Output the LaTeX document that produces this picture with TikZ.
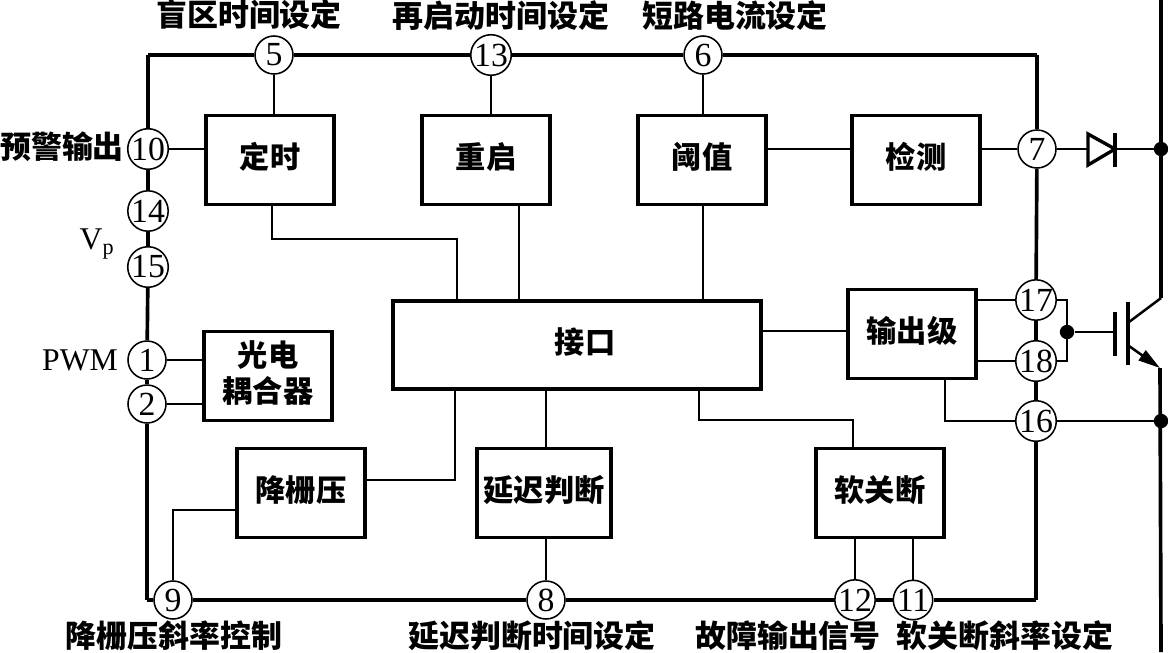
\documentclass[tikz,border=0pt]{standalone}
\usepackage{fontspec}
\setmainfont{Liberation Serif}
\newfontfamily\cjk{Noto Sans CJK SC}
\usetikzlibrary{arrows.meta}
\begin{document}
\begin{tikzpicture}[x=0.025cm,y=-0.025cm]
          \useasboundingbox (0,0) rectangle (1168,652);
          \tikzstyle{pin} = [draw, circle, fill=white, line width=1.1pt, inner sep=0pt, minimum size=0.95cm, font=\fontsize{24}{24}\selectfont];
          \tikzstyle{block} = [draw, line width=2.4pt, inner sep=0pt, minimum width=3.2cm, minimum height=2.22cm, text depth=0.22cm, font=\cjk\bfseries\fontsize{21.5}{25.5}\selectfont, align=center];
          \tikzstyle{lab} = [inner sep=0pt, font=\cjk\bfseries\fontsize{22}{24}\selectfont];
          \tikzstyle{latin} = [inner sep=0pt, font=\fontsize{22.5}{24}\selectfont];
          \tikzstyle{frame} = [line width=2.6pt];
          \tikzstyle{wire} = [line width=1.3pt];
          \tikzstyle{bar} = [line width=2.4pt];
          \tikzstyle{dot} = [fill, circle, inner sep=0pt, minimum size=0.36cm];
          % pins
          \node[pin](5) at (274,55) {5};
          \node[pin](13) at (491,55) {13};
          \node[pin](6) at (703,55) {6};
          \node[pin](10) at (148,149) {10};
          \node[pin](14) at (148,211) {14};
          \node[pin](15) at (148,267) {15};
          \node[pin](1) at (147,360) {1};
          \node[pin](2) at (147,404) {2};
          \node[pin](9) at (173,600) {9};
          \node[pin](8) at (546,600) {8};
          \node[pin](12) at (855,600) {12};
          \node[pin](11) at (913,600) {11};
          \node[pin](16) at (1036,421) {16};
          \node[pin](18) at (1036,361) {18};
          \node[pin](17) at (1036,300) {17};
          \node[pin](7) at (1037,149) {7};
          % blocks
          \node[block](timer) at (270,160) {定时};
          \node[block](restart) at (486,160) {重启};
          \node[block](thresh) at (702,160) {阈值};
          \node[block](detect) at (916,160) {检测};
          \node[block, minimum width=9.2cm, minimum height=2.2cm](iface) at (577,345) {\hspace*{0.4cm}接口};
          \node[block](output) at (912,334) {输出级};
          \node[block](opto) at (268,376) {光电\\耦合器};
          \node[block](gate) at (301,493) {降栅压};
          \node[block, minimum width=3.35cm](delay) at (544,493) {延迟判断};
          \node[block](soft) at (880,493) {软关断};
          % labels
          \node[lab](l5) at (249,15) {盲区时间设定};
          \node[lab](l13) at (501,16) {再启动时间设定};
          \node[lab](l6) at (735,16) {短路电流设定};
          \node[lab](l10) at (62,147) {预警输出};
          \node[latin](lv) at (97,244) {V\textsubscript{p}};
          \node[latin](l1) at (80,360) {PWM};
          \node[lab](l9) at (174,636) {降栅压斜率控制};
          \node[lab](l8) at (532,636) {延迟判断时间设定};
          \node[lab](l12) at (788,636) {故障输出信号};
          \node[lab](l11) at (1005,636) {软关断斜率设定};
          % corners and junctions
          \coordinate(tl) at (148,55);
          \coordinate(tr) at (1037,55);
          \coordinate(bl) at (147,600);
          \coordinate(br) at (1036,600);
          \coordinate(timerS) at (272,205);
          \coordinate(bendA) at (272,239);
          \coordinate(ifT1) at (457,302);
          \coordinate(ifT2) at (519,302);
          \coordinate(ifT3) at (703,302);
          \coordinate(ifB1) at (455,389);
          \coordinate(ifB3) at (699,389);
          \coordinate(ifE) at (761,331);
          \coordinate(gateE) at (366,480);
          \coordinate(gateW) at (236,510);
          \coordinate(softB) at (853,420);
          \coordinate(softT) at (853,449);
          \coordinate(outB) at (945,379);
          \coordinate(gbar) at (1115,332);
          \node[dot](dotc) at (1161,149) {};
          \node[dot](dote) at (1161,421) {};
          \node[dot](dotg) at (1067,332) {};
          \coordinate(railtop) at (1161,0);
          \coordinate(railbot) at (1161,652);
          \coordinate(coll) at (1161,298);
          \coordinate(emit) at (1160,368);
          \coordinate(cbase) at (1129,322);
          \coordinate(ebase) at (1129,346);
          \coordinate(dleft) at (1088,149);
          \coordinate(dright) at (1115,149);
          % outer frame
          \path[frame]
          (tl) edge (5)
          (5) edge (13)
          (13) edge (6)
          (6) edge (tr)
          (tr) edge (7)
          (7) edge (17)
          (17) edge (18)
          (18) edge (16)
          (16) edge (br)
          (br) edge (11)
          (11) edge (12)
          (12) edge (8)
          (8) edge (9)
          (9) edge (bl)
          (bl) edge (2)
          (2) edge (1)
          (1) edge (15)
          (15) edge (14)
          (14) edge (10)
          (10) edge (tl);
          \draw[frame, line cap=rect] (tl) -- +(0,0) (tr) -- +(0,0) (bl) -- +(0,0) (br) -- +(0,0);
          % inner wires
          \draw[wire] (5) -- (5 |- timer.north);
          \draw[wire] (13) -- (13 |- restart.north);
          \draw[wire] (6) -- (6 |- thresh.north);
          \draw[wire] (10) -- (10 -| timer.west);
          \draw[wire] (7) -- (7 -| detect.east);
          \draw[wire] (thresh.east |- 7) -- (detect.west |- 7);
          \draw[wire] (1) -- (1 -| opto.west);
          \draw[wire] (2) -- (2 -| opto.west);
          \draw[wire] (17) -- (17 -| output.east);
          \draw[wire] (18) -- (18 -| output.east);
          \draw[wire] (ifE) -- (ifE -| output.west);
          \draw[wire] (timerS) -- (bendA) -| (ifT1);
          \draw[wire] (ifT2 |- restart.south) -- (ifT2);
          \draw[wire] (ifT3 |- thresh.south) -- (ifT3);
          \draw[wire] (ifB1) |- (gateE);
          \draw[wire] (gateW) -| (9);
          \draw[wire] (8 |- iface.south) -- (8 |- delay.north);
          \draw[wire] (8) -- (8 |- delay.south);
          \draw[wire] (ifB3) |- (softB) -- (softT);
          \draw[wire] (12) -- (12 |- soft.south);
          \draw[wire] (11) -- (11 |- soft.south);
          \draw[wire] (outB) |- (16);
          % output side
          \draw[wire] (17) -| (dotg);
          \draw[wire] (18) -| (dotg);
          \draw[wire] (dotg) -- (gbar);
          \draw[wire] (7) -- (dleft);
          \draw[wire] (dright) -- (dotc);
          \draw[wire] (16) -- (dote);
          \draw[bar] (1088,134) -- (dright) -- (1088,165) -- cycle;
          \draw[bar] (1115,133) -- (1115,167);
          \draw[bar] (1115,312) -- (1115,356);
          \draw[bar] (1128,302) -- (1128,365);
          \draw[frame] (railtop) -- (coll);
          \draw[line width=1.8pt] (coll) -- (cbase);
          \draw[line width=1.8pt, -{Triangle[length=0.55cm,width=0.3cm]}] (ebase) -- (emit);
          \draw[frame] (emit) -- (railbot);
          \end{tikzpicture}
\end{document}
